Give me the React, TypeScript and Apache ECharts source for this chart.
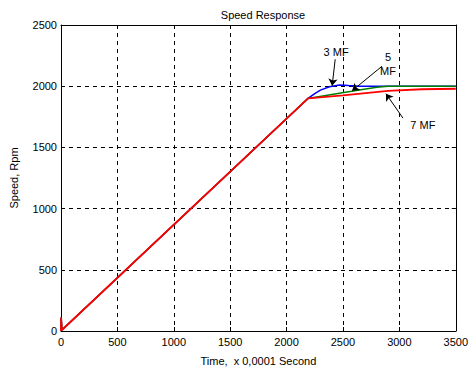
import React, { useEffect, useRef } from "react";
import * as echarts from "echarts";

const xTicks = [0, 500, 1000, 1500, 2000, 2500, 3000, 3500];
const yTicks = [0, 500, 1000, 1500, 2000, 2500];

const blue3MF: [number, number][] = [
  [0, 0], [1, 110], [8, 8], [2190, 1900], [2250, 1940], [2300, 1968], [2380, 1995],
  [2470, 2010], [2550, 2005], [2650, 2000], [3500, 2000],
];
const green5MF: [number, number][] = [
  [0, 0], [1, 110], [8, 8], [2190, 1900], [2400, 1932], [2577, 1958], [2700, 1978],
  [2800, 1992], [2900, 2000], [3500, 2000],
];
const red7MF: [number, number][] = [
  [0, 0], [1, 110], [8, 8], [2190, 1900], [2500, 1925], [2900, 1962], [3200, 1975],
  [3500, 1979],
];

const labels3: [number, number, string] = [2439, 2276, "3 MF"];
const labels5: [number, number, string] = [2899, 2179, "5\nMF"];
const labels7: [number, number, string] = [3208, 1683, "7 MF"];
const arrow3: [number, number][] = [[2431, 2220], [2404, 2003]];
const arrow5: [number, number][] = [[2846, 2163], [2581, 1963]];
const arrow7: [number, number][] = [[3032, 1739], [2881, 1939]];

const FONT = "Liberation Sans";

export default function App() {
  const ref = useRef<HTMLDivElement>(null);
  useEffect(() => {
    const chart = echarts.init(ref.current!, null, { renderer: "svg" });
    const dashed = { show: true, lineStyle: { color: "#000", type: [4, 4] as any, width: 1 } };
    const axisLine = { show: true, onZero: false, lineStyle: { color: "#000", width: 1 } };
    const tick = { show: true, inside: true, length: 4, lineStyle: { color: "#000" } };
    const lbl = { color: "#000", fontSize: 11, fontFamily: FONT };
    const mkLabel = (l: [number, number, string]) => ({
      coord: [l[0], l[1]],
      symbol: "circle",
      symbolSize: 1,
      itemStyle: { color: "rgba(0,0,0,0)" },
      label: {
        show: true,
        formatter: l[2],
        color: "#000",
        fontSize: 11,
        fontFamily: FONT,
        lineHeight: 14,
        position: "inside",
        align: "center",
        verticalAlign: "middle",
      },
    });
    const mkArrow = (a: [number, number][]) => [{ coord: a[0] }, { coord: a[1] }];
    chart.setOption({
      animation: false,
      backgroundColor: "#fff",
      title: {
        text: "Speed Response",
        left: 258,
        textAlign: "center",
        top: 4,
        textStyle: { color: "#000", fontSize: 11, fontWeight: "normal", fontFamily: FONT },
      },
      grid: { left: 60, right: 15, top: 25, bottom: 34 },
      xAxis: [
        {
          type: "value",
          min: 0,
          max: 3500,
          interval: 500,
          axisLine,
          axisTick: tick,
          splitLine: dashed,
          axisLabel: { ...lbl, margin: 5, formatter: (v: number) => (xTicks.includes(v) ? String(v) : "") },
          name: "Time,  x 0,0001 Second",
          nameLocation: "middle",
          nameGap: 24,
          nameTextStyle: { ...lbl },
        },
        {
          type: "value",
          position: "top",
          min: 0,
          max: 3500,
          interval: 500,
          axisLine,
          axisTick: tick,
          splitLine: { show: false },
          axisLabel: { show: false },
        },
      ],
      yAxis: [
        {
          type: "value",
          min: 0,
          max: 2500,
          interval: 500,
          axisLine,
          axisTick: tick,
          splitLine: dashed,
          axisLabel: { ...lbl, margin: 4, formatter: (v: number) => (yTicks.includes(v) ? String(v) : "") },
          name: "Speed, Rpm",
          nameLocation: "middle",
          nameGap: 42,
          nameTextStyle: { ...lbl },
        },
        {
          type: "value",
          position: "right",
          min: 0,
          max: 2500,
          interval: 500,
          axisLine,
          axisTick: tick,
          splitLine: { show: false },
          axisLabel: { show: false },
        },
      ],
      series: [
        {
          type: "line",
          data: blue3MF,
          showSymbol: false,
          symbol: "none",
          lineStyle: { color: "#0000ff", width: 1.5 },
          z: 2,
        },
        {
          type: "line",
          data: green5MF,
          showSymbol: false,
          symbol: "none",
          lineStyle: { color: "#008000", width: 1.5 },
          z: 3,
        },
        {
          type: "line",
          data: red7MF,
          showSymbol: false,
          symbol: "none",
          lineStyle: { color: "#ff0000", width: 1.8 },
          z: 4,
          markLine: {
            silent: true,
            symbol: ["none", "arrow"],
            symbolSize: 7,
            label: { show: false },
            lineStyle: { color: "#000", width: 1, type: "solid" },
            data: [mkArrow(arrow3), mkArrow(arrow5), mkArrow(arrow7)],
          },
          markPoint: {
            silent: true,
            data: [mkLabel(labels3), mkLabel(labels5), mkLabel(labels7)],
          },
        },
      ],
    });
    return () => chart.dispose();
  }, []);
  return <div ref={ref} style={{ width: 471, height: 371, position: "fixed", left: 0, top: 0 }} />;
}
